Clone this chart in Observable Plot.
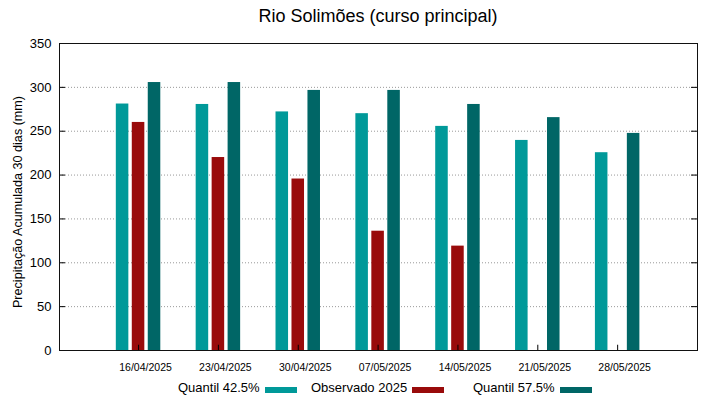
<!DOCTYPE html>
<html>
<head>
<meta charset="utf-8">
<script src="https://cdn.jsdelivr.net/npm/d3@7"></script>
<script src="https://cdn.jsdelivr.net/npm/@observablehq/plot@0.6"></script>
<style>
  html, body { margin: 0; padding: 0; background: #fff; }
  body { width: 719px; height: 399px; position: relative; overflow: hidden;
         font-family: "Liberation Sans", Arial, sans-serif; color: #000; }
  #title { position: absolute; left: 59px; top: 1px; width: 638px; height: 31px;
           line-height: 31px; text-align: center; font-size: 18px; }
  #chart { position: absolute; left: 0; top: 31px; }
  .leg { position: absolute; font-size: 13px; line-height: 16px; top: 379.5px; white-space: nowrap; }
  .sw { position: absolute; top: 386.5px; width: 32px; height: 6px; }
</style>
</head>
<body>
<div id="title">Rio Solimões (curso principal)</div>
<div id="chart"></div>
<div id="legend"></div>
<script>
const dates = ["16/04/2025", "23/04/2025", "30/04/2025", "07/05/2025", "14/05/2025", "21/05/2025", "28/05/2025"];
const quantil425 = [281, 280.5, 272, 270, 255.5, 239.5, 225.5];
const observado2025 = [260, 220, 195.5, 136, 119, null, null];
const quantil575 = [305.5, 305.5, 296.5, 296.5, 280.5, 265.5, 247.5];
const yTicks = [0, 50, 100, 150, 200, 250, 300, 350];
const seriesNames = ["Quantil 42.5%", "Observado 2025", "Quantil 57.5%"];
const seriesColors = ["#009999", "#990b0b", "#006666"];

const seriesValues = [quantil425, observado2025, quantil575];
const offsets = [-0.2, 0, 0.2];
const barW = 0.157;
const rows = [];
seriesValues.forEach((vals, s) => vals.forEach((v, i) => {
  if (v != null) rows.push({i, s, value: v});
}));
const idx = dates.map((d, i) => i);
const xMin = -0.99, xMax = 7;

const plot = Plot.plot({
  width: 719,
  height: 350,
  marginLeft: 59,
  marginRight: 22,
  marginTop: 12,
  marginBottom: 31,
  style: {fontFamily: "Liberation Sans, Arial, sans-serif", color: "#000", background: "#fff"},
  x: {type: "linear", domain: [xMin, xMax], axis: null},
  y: {domain: [0, 350], axis: null},
  marks: [
    Plot.gridY(yTicks.filter(t => t > 0 && t < 350), {stroke: "#999", strokeOpacity: 1, strokeDasharray: "1,2"}),
    Plot.rectY(rows, {
      x1: d => d.i + offsets[d.s] - barW / 2,
      x2: d => d.i + offsets[d.s] + barW / 2,
      y1: 0,
      y2: d => d.value,
      fill: d => seriesColors[d.s]
    }),
    Plot.ruleX(idx, {x: d => d, y1: 0, y2: 6, stroke: "#000"}),
    Plot.ruleY(yTicks, {y: d => d, x1: xMin, x2: xMin + 0.075, stroke: "#000"}),
    Plot.ruleY(yTicks, {y: d => d, x1: xMax - 0.075, x2: xMax, stroke: "#000"}),
    Plot.axisY(yTicks, {anchor: "left", tickSize: 0, tickPadding: 8, fontSize: 13, tickFormat: d => String(d), label: null}),
    Plot.axisX(idx, {anchor: "bottom", tickSize: 0, tickPadding: 13, fontSize: 10.5, dx: 7, tickFormat: i => dates[i], label: null}),
    Plot.text(["Precipitação Acumulada 30 dias (mm)"], {text: d => d, frameAnchor: "left", rotate: -90, dx: -42, dy: 5, fontSize: 12.6, textAnchor: "middle"}),
    Plot.frame({stroke: "#111"})
  ]
});
document.getElementById("chart").appendChild(plot);

const legend = document.getElementById("legend");
const textLeft = [178, 311, 473];
const swLeft = [265, 412, 560];
seriesNames.forEach((name, s) => {
  const t = document.createElement("span");
  t.className = "leg";
  t.style.left = textLeft[s] + "px";
  t.textContent = name;
  legend.appendChild(t);
  const sw = document.createElement("span");
  sw.className = "sw";
  sw.style.left = swLeft[s] + "px";
  sw.style.background = seriesColors[s];
  legend.appendChild(sw);
});
</script>
</body>
</html>
